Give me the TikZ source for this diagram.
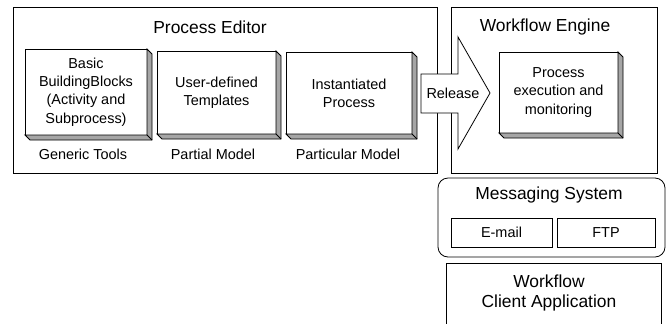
\documentclass[tikz,border=0pt]{standalone}
\usepackage{fontspec}
\setmainfont{Liberation Sans}
\begin{document}
\begin{tikzpicture}[x=1bp,y=-1bp,
	frame/.style={draw=black,line width=0.8bp,inner sep=0pt,outer sep=0pt},
	block/.style={frame,fill=white,align=center,font=\fontsize{14.5}{18.3}\selectfont},
	title/.style={align=center,font=\fontsize{17.5}{20}\selectfont},
	caption/.style={font=\fontsize{14.5}{18}\selectfont}]
		\clip (0,0) rectangle (666,323);
		
		\node[frame,minimum width=424bp,minimum height=166bp] (editor) at (225,90) {};
		\node[frame,minimum width=206bp,minimum height=166bp] (engine) at (554,90) {};
		\node[frame,rounded corners=10bp,minimum width=227bp,minimum height=79bp] (msg) at (551.5,217.5) {};
		\node[frame,minimum width=215bp,minimum height=77bp] (client) at (553.5,301.5) {};
		
		\node[title] (editortitle) at (210,27) {Process Editor};
		\node[title] (enginetitle) at (545,27) {Workflow Engine};
		\node[title] (msgtitle) at (549,195) {Messaging System};
		\node[title] (clienttitle) at (549,293) {Workflow\\Client Application};
		
		\node[block,minimum width=122bp,minimum height=86bp] (b1) at (86,92) {Basic\\BuildingBlocks\\(Activity and\\Subprocess)};
		\node[block,minimum width=119bp,minimum height=83bp] (b2) at (216.5,92.5) {User-defined\\Templates};
		\node[block,minimum width=126bp,minimum height=82bp] (b3) at (349,93) {Instantiated\\Process};
		\node[block,minimum width=119bp,minimum height=81bp] (b4) at (558.5,92.5) {Process\\execution and\\monitoring};
		\foreach \b in {b1,b2,b3,b4} {
			\draw[fill=black!35,line width=0.8bp] (\b.north east) -- ++(5,5) -- ([shift={(5,5)}]\b.south east) -- ([shift={(5,5)}]\b.south west) -- (\b.south west) -- (\b.south east) -- cycle;
			\draw[line width=0.8bp] (\b.south east) -- ++(5,5);
		}
		
		\node[caption] (c1) at (83,154) {Generic Tools};
		\node[caption] (c2) at (213,154) {Partial Model};
		\node[caption] (c3) at (348,154) {Particular Model};
		
		\node[block,minimum width=101bp,minimum height=29bp] (email) at (501.5,232.5) {E-mail};
		\node[block,minimum width=98bp,minimum height=29bp] (ftp) at (606,232.5) {FTP};
		
		\draw[fill=white,line width=0.8bp] (421,74) -- (458,74) -- (458,37) -- (490,93) -- (458,149) -- (458,113) -- (421,113) -- cycle;
		\node[caption] (release) at (453,93.5) {Release};
		\end{tikzpicture}
\end{document}
